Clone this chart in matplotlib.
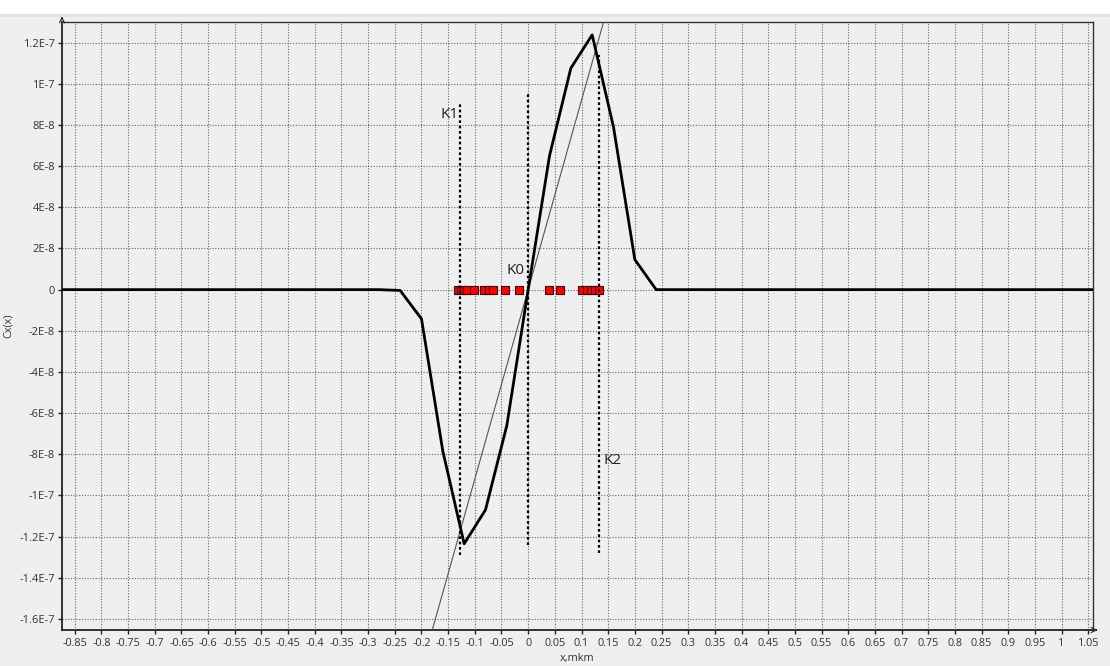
import matplotlib.pyplot as plt
import matplotlib.patches as mpatches
import numpy as np

# main curve Cx(x)
curve_x = [-0.88, -0.28, -0.24, -0.20, -0.16, -0.12, -0.08, -0.04, 0.0,
           0.04, 0.08, 0.12, 0.16, 0.20, 0.24, 1.08]
curve_y = [0.0, 0.0, -4e-10, -1.42e-8, -7.85e-8, -1.235e-7, -1.07e-7, -6.6e-8, 0.0,
           6.5e-8, 1.076e-7, 1.238e-7, 7.9e-8, 1.46e-8, 0.0, 0.0]

# thin straight fit line through the origin
fit_slope = 9.2e-7
fit_x = [-0.2, 0.16]

# red points on the zero line
points_x = [-0.131, -0.126, -0.121, -0.115, -0.101, -0.082, -0.073, -0.065,
            -0.043, -0.017, 0.039, 0.060, 0.100, 0.110, 0.118, 0.126, 0.133]

# marker lines K1, K0, K2
k_names = ["K1", "K0", "K2"]
k_x = [-0.127, 0.0, 0.133]
k_top = [9.1e-8, 9.6e-8, 1.14e-7]
k_bottom = [-1.29e-7, -1.24e-7, -1.28e-7]
k_label_pos = [(-0.165, 8.35e-8), (-0.040, 7.5e-9), (0.141, -8.45e-8)]

x_ticks = [round(-0.85 + 0.05 * i, 2) for i in range(39)]
y_ticks = [-1.6e-7, -1.4e-7, -1.2e-7, -1e-7, -8e-8, -6e-8, -4e-8, -2e-8, 0,
           2e-8, 4e-8, 6e-8, 8e-8, 1e-7, 1.2e-7]
y_tick_labels = ["-1.6E-7", "-1.4E-7", "-1.2E-7", "-1E-7", "-8E-8", "-6E-8", "-4E-8",
                 "-2E-8", "0", "2E-8", "4E-8", "6E-8", "8E-8", "1E-7", "1.2E-7"]

plt.rcParams['font.family'] = ['Open Sans', 'DejaVu Sans']
bg = '#eeeff1'

fig = plt.figure(figsize=(11.1, 6.66), dpi=100, facecolor=bg)
# white strip at the top of the window
fig.patches.append(mpatches.Rectangle((0, 1 - 14 / 666), 1, 14 / 666, transform=fig.transFigure,
                                      facecolor='white', edgecolor='none', zorder=0))
fig.patches.append(mpatches.Rectangle((0, 1 - 17 / 666), 1, 3 / 666, transform=fig.transFigure,
                                      facecolor='#e2e3e5', edgecolor='none', zorder=0))

ax = fig.add_axes([62 / 1110, 36 / 666, 1031 / 1110, 608.3 / 666])
ax.set_facecolor(bg)
ax.set_xlim(-0.874, 1.059)
ax.set_ylim(-1.654e-7, 1.302e-7)

ax.set_xticks(x_ticks)
ax.set_xticklabels([f"{v:g}" for v in x_ticks])
ax.set_yticks(y_ticks)
ax.set_yticklabels(y_tick_labels)
ax.tick_params(axis='x', labelsize=7.8, labelcolor='#333333', length=3, width=1,
               color='#222222', pad=3)
ax.tick_params(axis='y', labelsize=8, labelcolor='#333333', length=3, width=1,
               color='#222222', pad=2)

ax.grid(True, color='#666666', linestyle=(0, (1, 1.5)), linewidth=0.8)
ax.set_axisbelow(True)

for side in ['left', 'bottom']:
    ax.spines[side].set_linewidth(1.3)
    ax.spines[side].set_color('#222222')
for side in ['top', 'right']:
    ax.spines[side].set_linewidth(1.0)
    ax.spines[side].set_color('#333333')

# axis arrows
ax.annotate('', xy=(0, 1.013), xytext=(0, 1.0), xycoords='axes fraction',
            arrowprops=dict(arrowstyle='->', lw=0.8, color='#222222', mutation_scale=9))
ax.annotate('', xy=(1.007, 0), xytext=(1.0, 0), xycoords='axes fraction',
            arrowprops=dict(arrowstyle='->', lw=0.8, color='#222222', mutation_scale=9))

# fit line
fx = np.array(fit_x)
ax.plot(fx, fit_slope * fx, color='#555555', linewidth=0.8, zorder=3)

# main curve
ax.plot(curve_x, curve_y, color='black', linewidth=2.0, zorder=4)

# red points
ax.plot(points_x, np.zeros(len(points_x)), linestyle='none', marker='s', markersize=6,
        markerfacecolor='#ff0000', markeredgecolor='#3a0000', markeredgewidth=0.8, zorder=5)

# K lines and labels
for name, kx, top, bot, (lx, ly) in zip(k_names, k_x, k_top, k_bottom, k_label_pos):
    ax.plot([kx, kx], [bot, top], color='black', linestyle=(0, (1.2, 1.2)),
            linewidth=1.6, zorder=6)
    ax.text(lx, ly, name, fontsize=11, color='#222222', zorder=7)

ax.set_xlabel('x,mkm', fontsize=7.8, color='#333333', labelpad=3)
ax.set_ylabel('Cx(x)', fontsize=7.8, color='#333333', labelpad=4)

fig.savefig('out.png', dpi=100, facecolor=bg)
